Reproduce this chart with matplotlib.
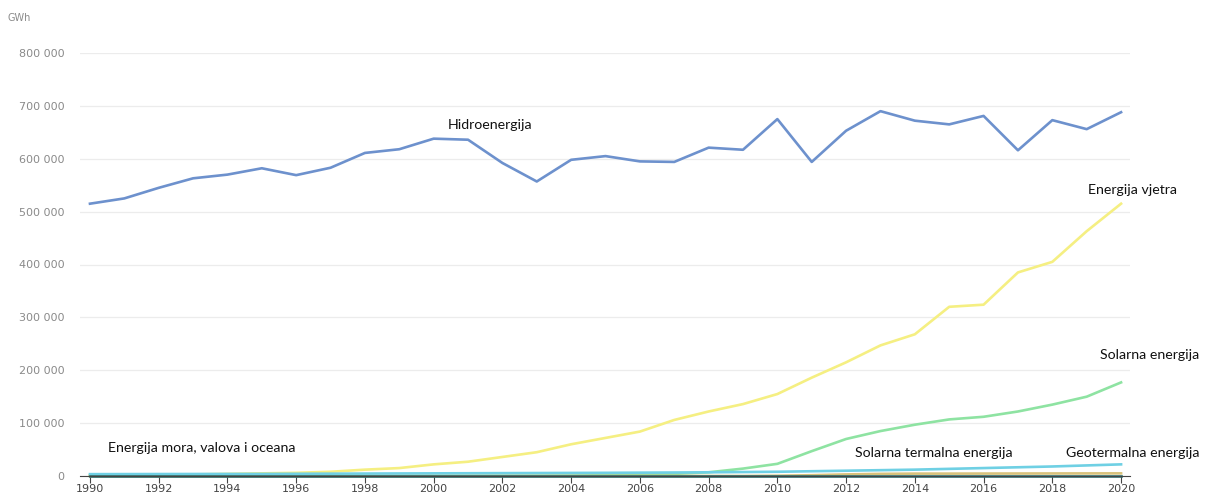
import matplotlib.pyplot as plt
import numpy as np

years = list(range(1990, 2021))

hidro = [515000, 525000, 545000, 563000, 570000, 582000, 569000, 583000, 611000, 618000,
         638000, 636000, 592000, 557000, 598000, 605000, 595000, 594000, 621000, 617000,
         675000, 594000, 653000, 690000, 672000, 665000, 681000, 616000, 673000, 656000,
         688000]
vjetar = [1000, 1500, 2000, 3000, 4000, 5000, 6000, 8000, 12000, 15000,
          22000, 27000, 36000, 45000, 60000, 72000, 84000, 106000, 122000, 136000,
          155000, 186000, 215000, 247000, 268000, 320000, 324000, 385000, 405000, 463000,
          515000]
solar = [0, 0, 0, 0, 0, 0, 0, 0, 0, 100,
         200, 300, 400, 600, 900, 1500, 2500, 4000, 7000, 14000,
         23000, 47000, 70000, 85000, 97000, 107000, 112000, 122000, 135000, 150000,
         177000]
geo = [3500, 3600, 3700, 3800, 3900, 4000, 4200, 4400, 4600, 4800,
       5000, 5200, 5400, 5600, 5800, 6000, 6300, 6600, 7000, 7500,
       8000, 9000, 10000, 11000, 12000, 13500, 15000, 16500, 18000, 20000,
       22000]
solar_term = [0, 0, 0, 0, 0, 0, 0, 0, 0, 0,
              0, 0, 0, 0, 0, 0, 0, 0, 0, 0,
              500, 1500, 3000, 4000, 4500, 4500, 4600, 4700, 4800, 4900,
              5000]
more = [500, 500, 500, 500, 500, 500, 500, 500, 500, 500,
        500, 500, 500, 500, 500, 500, 500, 500, 500, 500,
        500, 500, 500, 500, 500, 500, 500, 500, 500, 500,
        500]

fig = plt.figure(figsize=(12.05, 4.95), dpi=100)
ax = fig.add_axes([80 / 1205, 19 / 495, 1050 / 1205, 423 / 495])

ax.plot(years, hidro, color='#6d91cd', lw=1.9, clip_on=False)
ax.plot(years, vjetar, color='#f5ef82', lw=1.9, clip_on=False)
ax.plot(years, solar, color='#8ee3a2', lw=1.9, clip_on=False)
ax.plot(years, solar_term, color='#d8c27c', lw=1.9, clip_on=False)
ax.plot(years, geo, color='#6fd0e4', lw=1.9, clip_on=False)
ax.plot(years, more, color='#2f6f70', lw=1.9, clip_on=False)

ax.set_xlim(1989.71, 2020.26)
ax.set_ylim(0, 800000)
ax.set_yticks(range(0, 800001, 100000))
ax.set_yticklabels([f'{v:,}'.replace(',', ' ') for v in range(0, 800001, 100000)])
ax.set_xticks(range(1990, 2021, 2))
ax.grid(axis='y', color='#ececec', lw=0.9)
ax.set_axisbelow(True)
for s in ['top', 'right', 'left']:
    ax.spines[s].set_visible(False)
ax.spines['bottom'].set_color('#444444')
ax.tick_params(axis='y', length=0, labelsize=8, labelcolor='#8a8a8a', pad=11)
ax.tick_params(axis='x', length=5, color='#444444', labelsize=8, labelcolor='#444444', pad=1)

fig.text(8 / 1205, 1 - 18 / 495, 'GWh', fontsize=7, color='#8a8a8a', va='center')

lbl = dict(fontsize=10.2, family='Lato', color='#111111', va='center')
ax.text(2000.4, 663000, 'Hidroenergija', **lbl)
ax.text(2019.05, 540000, 'Energija vjetra', **lbl)
ax.text(2019.4, 229000, 'Solarna energija', **lbl)
ax.text(1990.52, 53000, 'Energija mora, valova i oceana', **lbl)
ax.text(2012.26, 43500, 'Solarna termalna energija', **lbl)
ax.text(2018.4, 43500, 'Geotermalna energija', **lbl)

fig.savefig('out.png', dpi=100)
